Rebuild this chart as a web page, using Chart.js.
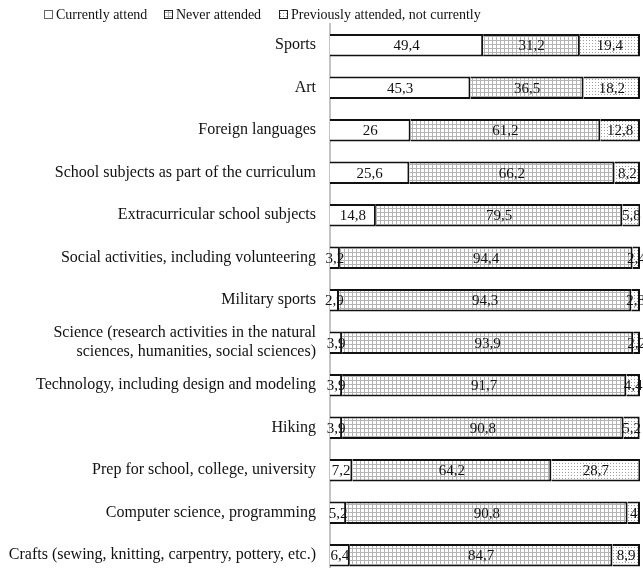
<!DOCTYPE html>
<html>
<head>
<meta charset="utf-8">
<script src="https://cdn.jsdelivr.net/npm/chart.js@4"></script>
<style>
  html, body { margin: 0; padding: 0; background: #fff; overflow: hidden; }
</style>
</head>
<body>
<canvas id="chart" width="643" height="592"></canvas>
<script>
const categories = [
  "Sports",
  "Art",
  "Foreign languages",
  "School subjects as part of the curriculum",
  "Extracurricular school subjects",
  "Social activities, including volunteering",
  "Military sports",
  ["Science (research activities in the natural", "sciences, humanities, social sciences)"],
  "Technology, including design and modeling",
  "Hiking",
  "Prep for school, college, university",
  "Computer science, programming",
  "Crafts (sewing, knitting, carpentry, pottery, etc.)",
];
const seriesNames = ["Currently attend", "Never attended", "Previously attended, not currently"];
const currentlyAttend  = [49.4, 45.3, 26, 25.6, 14.8, 3.2, 2.9, 3.9, 3.9, 3.9, 7.2, 5.2, 6.4];
const neverAttended    = [31.2, 36.5, 61.2, 66.2, 79.5, 94.4, 94.3, 93.9, 91.7, 90.8, 64.2, 90.8, 84.7];
const previouslyAttend = [19.4, 18.2, 12.8, 8.2, 5.8, 2.4, 2.8, 2.2, 4.4, 5.2, 28.7, 4, 8.9];

const SERIF = "'Liberation Serif', 'DejaVu Serif', serif";

function makePattern(size, drawFn) {
  const c = document.createElement("canvas");
  c.width = size; c.height = size;
  const g = c.getContext("2d");
  g.fillStyle = "#fff";
  g.fillRect(0, 0, size, size);
  drawFn(g);
  return document.getElementById("chart").getContext("2d").createPattern(c, "repeat");
}

const gridPattern = makePattern(4, g => {
  g.fillStyle = "#b4b4b4";
  g.fillRect(0, 0, 4, 1);
  g.fillRect(0, 0, 1, 4);
});
const dotPattern = makePattern(3, g => {
  g.fillStyle = "#a0a0a0";
  g.fillRect(1, 1, 1, 1);
});

// values inside each segment, comma decimals
const barLabels = {
  id: "barLabels",
  afterDatasetsDraw(chart) {
    const ctx = chart.ctx;
    ctx.save();
    ctx.font = "15px " + SERIF;
    ctx.fillStyle = "#111";
    ctx.textAlign = "center";
    ctx.textBaseline = "middle";
    chart.data.datasets.forEach((ds, di) => {
      chart.getDatasetMeta(di).data.forEach((bar, i) => {
        const txt = String(ds.data[i]).replace(".", ",");
        ctx.fillText(txt, (bar.x + bar.base) / 2, bar.y + 1);
      });
    });
    ctx.restore();
  },
};

// legend row at the top, small square boxes
const topLegend = {
  id: "topLegend",
  afterDraw(chart) {
    const ctx = chart.ctx;
    const starts = [44, 164, 279];
    ctx.save();
    ctx.font = "14px " + SERIF;
    ctx.textBaseline = "middle";
    chart.data.datasets.forEach((ds, i) => {
      const x = starts[i];
      ctx.fillStyle = ds.backgroundColor;
      ctx.fillRect(x, 10, 9, 9);
      ctx.strokeStyle = i === 0 ? "#666" : "#222";
      ctx.lineWidth = 1;
      ctx.strokeRect(x + 0.5, 10.5, 8, 8);
      ctx.fillStyle = "#111";
      ctx.fillText(ds.label, x + 12, 15);
    });
    ctx.restore();
  },
};

const common = { borderColor: "#111", borderWidth: 2, barPercentage: 0.53, categoryPercentage: 1 };

new Chart(document.getElementById("chart"), {
  type: "bar",
  data: {
    labels: categories,
    datasets: [
      { label: seriesNames[0], data: currentlyAttend, backgroundColor: "#fff", ...common },
      { label: seriesNames[1], data: neverAttended, backgroundColor: gridPattern, ...common },
      { label: seriesNames[2], data: previouslyAttend, backgroundColor: dotPattern, ...common },
    ],
  },
  options: {
    indexAxis: "y",
    responsive: false,
    animation: false,
    layout: { padding: { right: 3, top: 24, bottom: 0 } },
    plugins: {
      legend: { display: false },
      tooltip: { enabled: false },
    },
    scales: {
      x: { stacked: true, min: 0, max: 100, display: false },
      y: {
        stacked: true,
        grid: { display: false },
        border: { display: true, color: "#c4c4c4", width: 2 },
        ticks: { color: "#111", font: { family: SERIF, size: 16 }, padding: 6 },
        afterFit: s => { s.width = 330; },
      },
    },
  },
  plugins: [barLabels, topLegend],
});
</script>
</body>
</html>
